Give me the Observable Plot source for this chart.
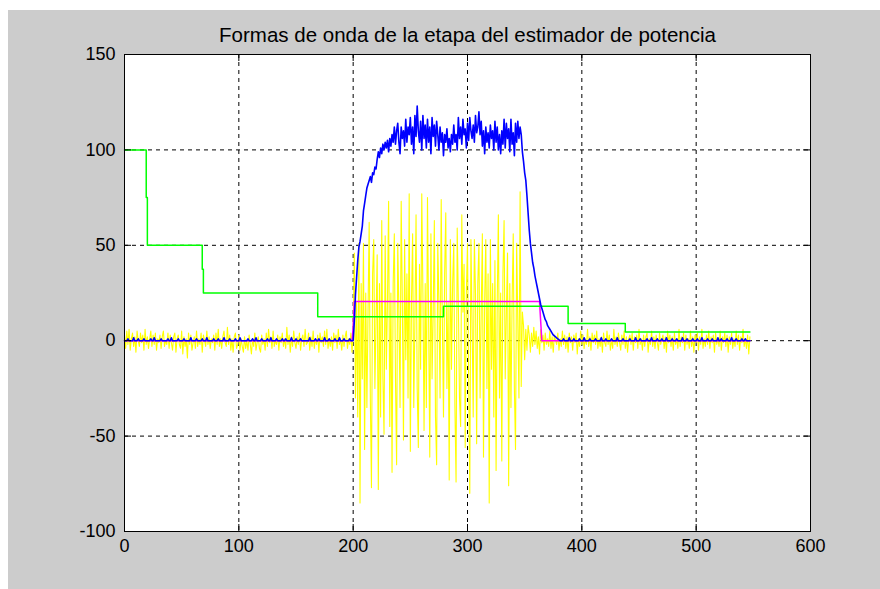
<!DOCTYPE html>
<html><head><meta charset="utf-8">
<script src="https://cdn.jsdelivr.net/npm/d3@7"></script>
<script src="https://cdn.jsdelivr.net/npm/@observablehq/plot@0.6"></script>
<style>
html,body{margin:0;padding:0;background:#fff;width:880px;height:589px;overflow:hidden}
#bg{position:absolute;left:8px;top:10px;width:872px;height:579px;background:#cccccc}
#chart{position:absolute;left:0;top:0}
</style></head><body>
<div id="bg"></div><div id="chart"></div>
<script>
const title = "Formas de onda de la etapa del estimador de potencia";
const xTicks = [0, 100, 200, 300, 400, 500, 600];
const yTicks = [-100, -50, 0, 50, 100, 150];

// yellow: input signal, samples x = 0..547
const yellowPre = [
3,-4,5,-2,6,-5,1,4,-3,2,-6,5,0,-3,4,-1,3,-5,6,-2,
2,-4,1,5,-3,3,-2,4,-5,1,-1,3,-4,2,5,-3,0,-2,4,-4,
3,-1,-5,2,4,-6,1,3,-2,-4,5,-7,2,-3,1,-9,4,-2,3,-5,
-1,2,-4,5,-3,1,-2,4,-6,3,0,-3,5,-2,2,-4,1,-1,3,-5,
4,-2,6,-3,1,-4,2,5,-1,-3,7,-2,3,-5,1,-6,2,4,-4,-2,
3,-5,1,-3,-6,2,-4,0,-5,3,-2,-7,1,-3,4,-5,-1,2,-4,-6,
3,-2,1,-5,4,-3,6,-1,2,-4,5,-3,0,-2,3,-5,2,-1,4,-3,
1,-4,7,-2,3,-6,2,-3,5,-1,-4,2,-2,4,-5,1,3,-3,6,-2,
-1,4,-5,2,-3,5,-4,1,-2,3,-6,4,-1,2,-3,5,-2,6,-4,1,
-3,2,-5,4,-1,3,-4,6,-2,1,-5,3,-3,2,5,-4,1,-2,4,-6];
const yellowBurst = [
5,46,-30,20,-40,51,-85,30,-20,51,
-57,25,-35,15,62,-30,-77,35,53,-25,
10,45,-78,30,-40,63,-20,-49,55,-15,
20,73,-45,25,-69,30,56,-20,-65,51,
15,-35,73,20,-52,53,-10,35,-30,77,
-58,20,56,-35,10,66,-25,-56,40,-15,
77,25,-47,30,-35,75,10,-61,56,-20,
15,63,-40,-65,51,20,-30,74,10,-40,
35,67,-25,20,-73,53,-15,30,51,-35,
-74,59,20,-30,-45,66,15,40,-56,25,
51,-20,-80,53,10,-40,53,25,-54,30,
51,-30,15,56,-61,20,53,-25,35,-85,
53,-15,30,-40,42,-68,20,66,-30,25,
-63,35,63,-20,15,46,-76,30,-35,20,
56,-25,-57,51,10,-30,78,-24,15,8,
-10];
const yellowPost = [
6,-5,8,3,-6,4,-3,7,-2,5,-4,2,-7,6,-1,3,-5,4,-2,1,
-3,5,-4,2,-6,3,0,-2,4,-5,1,-3,5,-2,3,-4,2,-6,4,-1,
2,-5,3,-1,4,-7,1,-3,5,-2,3,-4,1,-2,6,-3,2,-5,4,-1,
3,-2,5,-4,1,-3,2,-6,4,-1,-3,5,-2,3,-5,1,-4,6,-2,2,
-3,4,-1,-5,3,-2,5,-4,2,-6,1,3,-2,4,-5,2,-1,3,-4,6,
-2,1,-5,3,-3,2,4,-6,1,-2,5,-3,2,-4,3,-1,-5,4,-2,1,
3,-4,2,-6,5,-1,3,-3,2,-5,4,-2,1,-4,6,-3,2,-1,4,-5,
3,-2,1,-4,5,-3,2,-6,3,-1,4,-5,2,-2,6,-4,1,-3,3,-2,
5,-4,2,-1,3,-6,4,-2,1,-3,5,-5,2,-1,4,-3,3,-6,2,-2,
4,-4,1,-3,5,-2,3,-5,2,-1,6,-3,1,-4,3,-7,2];

// blue: power estimate, samples x = 0..547
const bluePre = [
0,0,0,1,0,0,0,0,1.5,0,0,0,1,0,0,0,0,1,0,0,
0,0,0,1,0,0,1.5,0,0,0,0,0,1,0,0,0,0,0,1,0,
0,1.5,0,0,0,0,0,1,0,0,0,0,1,0,0,0,0,0,1.5,0,
0,0,0,1,0,0,0,0,1,0,0,0,1.5,0,0,0,0,0,1,0,
0,0,1,0,0,0,0,1.5,0,0,0,0,1,0,0,0,0,1,0,0,
0,1.5,0,0,0,0,0,0,1,0,0,0,1,0,0,1.5,0,0,0,0,
1,0,0,0,0,1,0,0,1.5,0,0,0,0,1,0,0,0,0,1,0,
0,1,0,0,0,0,1.5,0,0,0,1,0,0,0,1,0,0,0,0,0,
0,0,1.5,0,0,0,0,1,0,0,1,0,0,0,0,1.5,0,0,0,1,
0,0,0,0,1,0,0,0,1.5,0,0,0,1,0,0,0,0,1,0,0];
const blueBurst = [
0,10,24,33,42,49,52,56,60,68,
72,76,80,82,84,86,83,88,87,91,
90,95,99,96,101,98,103,100,104,101,
105,99,106,102,108,104,112,103,110,114,
104,98,112,106,110,102,116,104,112,108,
117,103,112,98,118,107,123,110,104,115,
100,118,106,113,101,116,104,112,98,117,
107,113,102,115,108,100,112,104,109,97,
108,104,111,101,106,99,108,103,113,104,
108,100,117,106,112,103,116,108,111,101,
114,105,117,110,106,113,104,118,109,112,
120,108,115,102,110,98,112,104,109,101,
113,106,110,100,115,104,112,100,108,98,
110,103,116,101,114,106,111,99,116,103,
109,97,114,104,115,106,112,108,99,94,
88,84,76,67,58,51,46,41,38,34,
31,28,25,22,19,17,15,13,11,10,
8,7,6,5,4,3,2.5,2,1.5,1,
0.5];
const bluePost = [
0,0,0,1,0,0,0,0,1.5,0,0,0,1,0,0,0,0,1,0,0,
0,1.5,0,0,0,0,1,0,0,0,0,1,0,0,0,0,1.5,0,0,0,
1,0,0,0,0,1,0,0,0,0,1.5,0,0,0,0,1,0,0,0,0,
0,1,0,0,0,0,1.5,0,0,0,1,0,0,0,0,0,1,0,0,0,
1.5,0,0,0,0,1,0,0,0,1,0,0,0,1.5,0,0,0,0,1,0,
0,0,1,0,0,0,0,1.5,0,0,0,1,0,0,0,0,1,0,0,0,
1,0,0,0,1.5,0,0,0,0,1,0,0,0,1,0,0,0,0,1.5,0,
0,1,0,0,0,0,1,0,0,0,1.5,0,0,0,1,0,0,0,0,1,
0,0,1,0,0,0,0];

// magenta: detection level
const magentaX = [0, 199, 200, 201, 363, 365, 547];
const magentaY = [0, 0, 7, 20.5, 20.5, 0, 0];

// green: threshold, step levels starting at each x
const greenX = [0, 19, 20, 68, 69, 169, 279, 388, 438, 547];
const greenY = [100, 75, 50, 37.5, 25, 12.5, 18, 9, 4.5, 4.5];

const yellow = [...yellowPre, ...yellowBurst, ...yellowPost].map((y, i) => ({x: i, y}));
const blue = [...bluePre, ...blueBurst, ...bluePost].map((y, i) => ({x: i, y}));
const magenta = magentaX.map((x, i) => ({x, y: magentaY[i]}));
const green = greenX.map((x, i) => ({x, y: greenY[i]}));

const fmt = d => String(d);
const chart = Plot.plot({
  width: 880, height: 589,
  marginLeft: 124, marginRight: 70, marginTop: 54, marginBottom: 58,
  x: {domain: [0, 600]},
  y: {domain: [-100, 150]},
  style: {background: "transparent", fontFamily: "'Liberation Sans', Arial, sans-serif", color: "black", overflow: "visible"},
  marks: [
    Plot.frame({fill: "white", stroke: null}),
    Plot.gridX({ticks: xTicks, stroke: "black", strokeOpacity: 1, strokeDasharray: "4,4"}),
    Plot.gridY({ticks: yTicks, stroke: "black", strokeOpacity: 1, strokeDasharray: "4,4"}),
    Plot.line(yellow, {x: "x", y: "y", stroke: "#ffff00", strokeWidth: 1.1}),
    Plot.line(magenta, {x: "x", y: "y", stroke: "#ff00ff", strokeWidth: 1.5}),
    Plot.line(green, {x: "x", y: "y", stroke: "#00ff00", strokeWidth: 1.5, curve: "step-after"}),
    Plot.line(blue, {x: "x", y: "y", stroke: "#0000ff", strokeWidth: 1.6}),
    Plot.ruleX(xTicks, {stroke: "black", insetTop: 470}),
    Plot.ruleX(xTicks, {stroke: "black", insetBottom: 470}),
    Plot.ruleY(yTicks, {stroke: "black", insetRight: 679}),
    Plot.ruleY(yTicks, {stroke: "black", insetLeft: 679}),
    Plot.frame({stroke: "black"}),
    Plot.axisX({ticks: xTicks, tickSize: 0, tickPadding: 8, tickFormat: fmt, fontSize: 18, label: null}),
    Plot.axisY({ticks: yTicks, tickSize: 0, tickPadding: 9, tickFormat: fmt, fontSize: 18, label: null}),
    Plot.text([title], {text: d => d, frameAnchor: "top", dy: -19, lineAnchor: "middle", fontSize: 20.5, fill: "black"})
  ]
});
document.getElementById("chart").appendChild(chart);
</script>
</body></html>
